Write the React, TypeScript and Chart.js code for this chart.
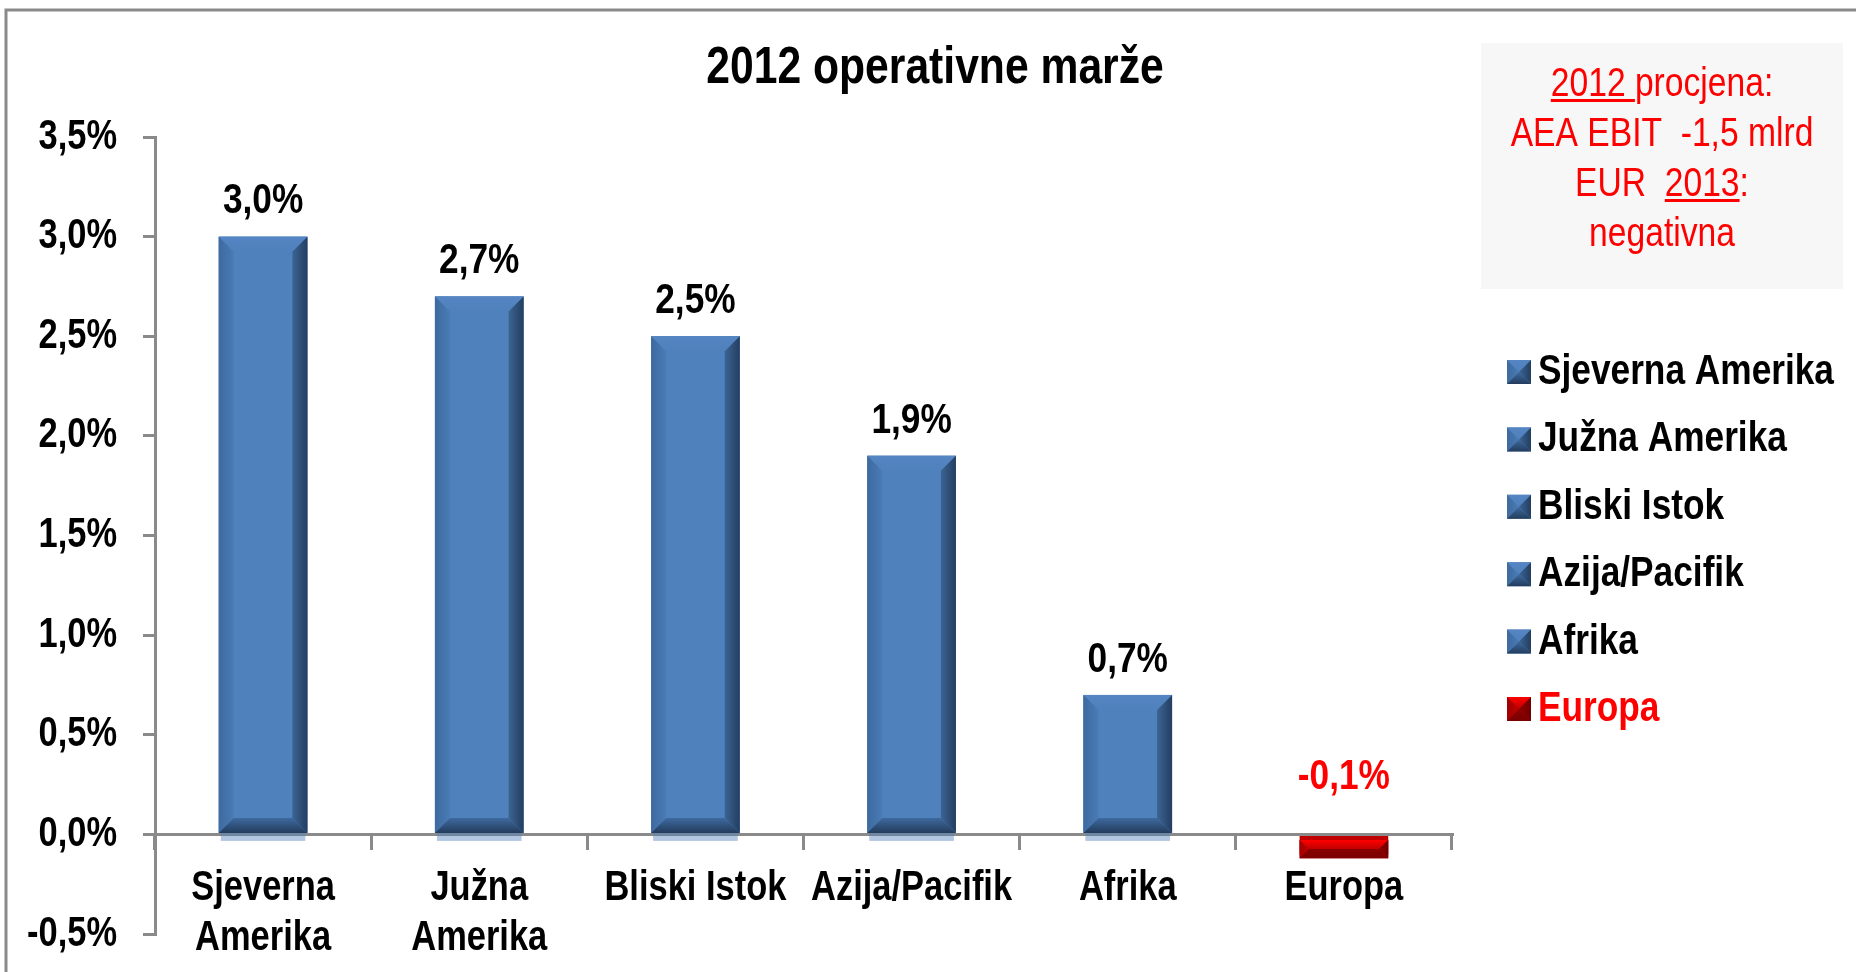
import React, { useEffect, useRef } from 'react';
import { Chart, registerables } from 'chart.js';

Chart.register(...registerables);

// ---- data ----
const categories: (string | string[])[] = [
  ['Sjeverna', 'Amerika'],
  ['Južna', 'Amerika'],
  'Bliski Istok',
  'Azija/Pacifik',
  'Afrika',
  'Europa',
];
const legendLabels = ['Sjeverna Amerika', 'Južna Amerika', 'Bliski Istok', 'Azija/Pacifik', 'Afrika', 'Europa'];
const margins = [3.0, 2.7, 2.5, 1.9, 0.7, -0.1];
const yTicks = [-0.5, 0, 0.5, 1.0, 1.5, 2.0, 2.5, 3.0, 3.5];
const chartTitle = '2012 operativne marže';
const noteLines: { t: string; u?: boolean }[][] = [
  [{ t: '2012 ', u: true }, { t: 'procjena:' }],
  [{ t: 'AEA EBIT  -1,5 mlrd' }],
  [{ t: 'EUR  ' }, { t: '2013', u: true }, { t: ':' }],
  [{ t: 'negativna' }],
];

// ---- styles ----
const FONT = "'Liberation Sans', Arial, sans-serif";
const NARROW = 0.82; // emulate Arial Narrow by horizontal condensing
const AXIS = '#8a8a8a';
const BLUE = { base: '#4F81BD', top: '#5585c2', left: '#3d6a9f', leftIn: '#4a7bb5', right: '#243e60', rightIn: '#3b6494', bottom: '#233c5d', bottomIn: '#3e6a9f' };
const RED = { base: '#c00000', top: '#ff0000', left: '#a00000', leftIn: '#c00000', right: '#700000', rightIn: '#900000', bottom: '#7a0000', bottomIn: '#8b0000' };

const fmt = (v: number) => v.toFixed(1).replace('.', ',') + '%';

function condense(ctx: CanvasRenderingContext2D) {
  const origFill = ctx.fillText.bind(ctx);
  const origMeasure = ctx.measureText.bind(ctx);
  (ctx as any).fillText = (text: string, x: number, y: number, maxWidth?: number) => {
    ctx.save();
    ctx.translate(x, y);
    ctx.scale(NARROW, 1);
    if (maxWidth !== undefined) origFill(text, 0, 0, maxWidth / NARROW);
    else origFill(text, 0, 0);
    ctx.restore();
  };
  (ctx as any).measureText = (text: string) => {
    const m = origMeasure(text);
    return {
      width: m.width * NARROW,
      actualBoundingBoxAscent: m.actualBoundingBoxAscent,
      actualBoundingBoxDescent: m.actualBoundingBoxDescent,
      actualBoundingBoxLeft: m.actualBoundingBoxLeft * NARROW,
      actualBoundingBoxRight: m.actualBoundingBoxRight * NARROW,
      fontBoundingBoxAscent: m.fontBoundingBoxAscent,
      fontBoundingBoxDescent: m.fontBoundingBoxDescent,
    };
  };
}

function poly(ctx: CanvasRenderingContext2D, pts: number[][], fill: string | CanvasGradient) {
  ctx.beginPath();
  ctx.moveTo(pts[0][0], pts[0][1]);
  for (let i = 1; i < pts.length; i++) ctx.lineTo(pts[i][0], pts[i][1]);
  ctx.closePath();
  ctx.fillStyle = fill;
  ctx.fill();
}

function bevel(ctx: CanvasRenderingContext2D, l: number, r: number, t: number, b: number, pal: any, size: number) {
  const s = Math.min(size, (b - t) / 2, (r - l) / 2);
  ctx.fillStyle = pal.base;
  ctx.fillRect(l, t, r - l, b - t);
  let g = ctx.createLinearGradient(0, t, 0, t + s);
  g.addColorStop(0, pal.top);
  g.addColorStop(1, pal.base);
  poly(ctx, [[l, t], [r, t], [r - s, t + s], [l + s, t + s]], g);
  g = ctx.createLinearGradient(l, 0, l + s, 0);
  g.addColorStop(0, pal.left);
  g.addColorStop(1, pal.leftIn);
  poly(ctx, [[l, t], [l + s, t + s], [l + s, b - s], [l, b]], g);
  g = ctx.createLinearGradient(r, 0, r - s, 0);
  g.addColorStop(0, pal.right);
  g.addColorStop(1, pal.rightIn);
  poly(ctx, [[r, t], [r, b], [r - s, b - s], [r - s, t + s]], g);
  g = ctx.createLinearGradient(0, b, 0, b - s);
  g.addColorStop(0, pal.bottom);
  g.addColorStop(1, pal.bottomIn);
  poly(ctx, [[l, b], [l + s, b - s], [r - s, b - s], [r, b]], g);
}

const framePlugin = {
  id: 'frame',
  beforeDraw(chart: any) {
    const ctx: CanvasRenderingContext2D = chart.ctx;
    ctx.save();
    ctx.fillStyle = '#ffffff';
    ctx.fillRect(0, 0, chart.width, chart.height);
    ctx.strokeStyle = AXIS;
    ctx.lineWidth = 3;
    ctx.beginPath();
    ctx.moveTo(6, chart.height);
    ctx.lineTo(6, 10);
    ctx.lineTo(chart.width, 10);
    ctx.stroke();
    // note box
    ctx.fillStyle = '#f7f7f7';
    ctx.fillRect(1481, 43, 362, 246);
    ctx.restore();
  },
};

const barPlugin = {
  id: 'bevelBars',
  afterDatasetsDraw(chart: any) {
    const ctx: CanvasRenderingContext2D = chart.ctx;
    const meta = chart.getDatasetMeta(0);
    ctx.save();
    meta.data.forEach((bar: any, i: number) => {
      const p = bar.getProps(['x', 'y', 'base', 'width'], true);
      const l = p.x - p.width / 2;
      const r = p.x + p.width / 2;
      const v = margins[i];
      if (v >= 0) {
        ctx.fillStyle = 'rgba(79,129,189,0.45)';
        ctx.fillRect(l + 2, p.base, p.width - 4, 8);
        bevel(ctx, l, r, p.y, p.base, BLUE, 15);
      } else {
        bevel(ctx, l, r, p.base + 4, p.y + 4, RED, 15);
      }
      // data label
      ctx.font = `bold 43px ${FONT}`;
      ctx.textAlign = 'center';
      ctx.textBaseline = 'middle';
      ctx.fillStyle = v < 0 ? '#ff0000' : '#000000';
      const ly = v >= 0 ? p.y - 35 : p.base - 59;
      ctx.fillText(fmt(v), p.x, ly);
    });
    ctx.restore();
  },
};

const textPlugin = {
  id: 'texts',
  afterDraw(chart: any) {
    const ctx: CanvasRenderingContext2D = chart.ctx;
    ctx.save();
    // title
    ctx.font = `bold 52px ${FONT}`;
    ctx.fillStyle = '#000';
    ctx.textAlign = 'center';
    ctx.textBaseline = 'alphabetic';
    ctx.fillText(chartTitle, 935, 83);

    // note
    ctx.font = `41px ${FONT}`;
    ctx.textAlign = 'left';
    ctx.fillStyle = '#ff0000';
    const cx = 1662;
    noteLines.forEach((segs, i) => {
      const base = 96 + i * 50;
      const total = segs.reduce((a, s) => a + ctx.measureText(s.t).width, 0);
      let x = cx - total / 2;
      segs.forEach((s) => {
        const w = ctx.measureText(s.t).width;
        ctx.fillText(s.t, x, base);
        if (s.u) ctx.fillRect(x, base + 3, w, 3);
        x += w;
      });
    });

    // legend
    legendLabels.forEach((lab, i) => {
      const cy = 372 + i * 67.4;
      const pal = margins[i] < 0 ? RED : BLUE;
      const sx = 1507, sz = 24;
      bevel(ctx, sx, sx + sz, cy - sz / 2, cy + sz / 2, pal, 12);
      ctx.font = `bold 43px ${FONT}`;
      ctx.fillStyle = margins[i] < 0 ? '#ff0000' : '#000000';
      ctx.textAlign = 'left';
      ctx.textBaseline = 'alphabetic';
      ctx.fillText(lab, 1538, cy + 12);
    });
    ctx.restore();
  },
};

export default function App() {
  const ref = useRef<HTMLCanvasElement>(null);
  useEffect(() => {
    const canvas = ref.current!;
    const ctx = canvas.getContext('2d')!;
    condense(ctx);
    const chart = new Chart(ctx, {
      type: 'bar',
      data: {
        labels: categories as any,
        datasets: [
          {
            data: margins,
            backgroundColor: margins.map((v) => (v < 0 ? RED.base : BLUE.base)),
            borderWidth: 0,
            barPercentage: 0.41,
            categoryPercentage: 1,
          },
        ],
      },
      options: {
        responsive: false,
        animation: false,
        devicePixelRatio: 1,
        layout: { padding: { left: 0, right: 404, top: 137, bottom: 38 } },
        plugins: { legend: { display: false }, tooltip: { enabled: false }, title: { display: false } },
        scales: {
          x: {
            position: { y: 0 } as any,
            z: 1,
            grid: { offset: true, drawOnChartArea: false, drawTicks: true, tickLength: 14, color: AXIS, lineWidth: 3 },
            border: { color: AXIS, width: 3 },
            ticks: {
              color: '#000',
              font: { family: FONT, size: 42, weight: 'bold', lineHeight: 50 / 42 },
              padding: 15,
              maxRotation: 0,
              autoSkip: false,
            },
          },
          y: {
            min: yTicks[0],
            max: yTicks[yTicks.length - 1],
            afterFit: (s: any) => {
              s.width = 155;
              s.paddingTop = 0;
              s.paddingBottom = 0;
            },
            afterBuildTicks: (s: any) => {
              s.ticks = yTicks.map((v) => ({ value: v }));
            },
            grid: { drawOnChartArea: false, tickLength: 12, color: AXIS, lineWidth: 3 },
            border: { color: AXIS, width: 3 },
            ticks: {
              callback: (v: any) => fmt(Number(v)),
              color: '#000',
              font: { family: FONT, size: 42, weight: 'bold' },
              padding: 26,
            },
          },
        },
      },
      plugins: [framePlugin, barPlugin, textPlugin],
    });
    return () => chart.destroy();
  }, []);
  return (
    <div style={{ position: 'fixed', left: 0, top: 0, width: 1856, height: 972, background: '#fff' }}>
      <canvas ref={ref} width={1856} height={972} style={{ display: 'block', width: 1856, height: 972 }} />
    </div>
  );
}
